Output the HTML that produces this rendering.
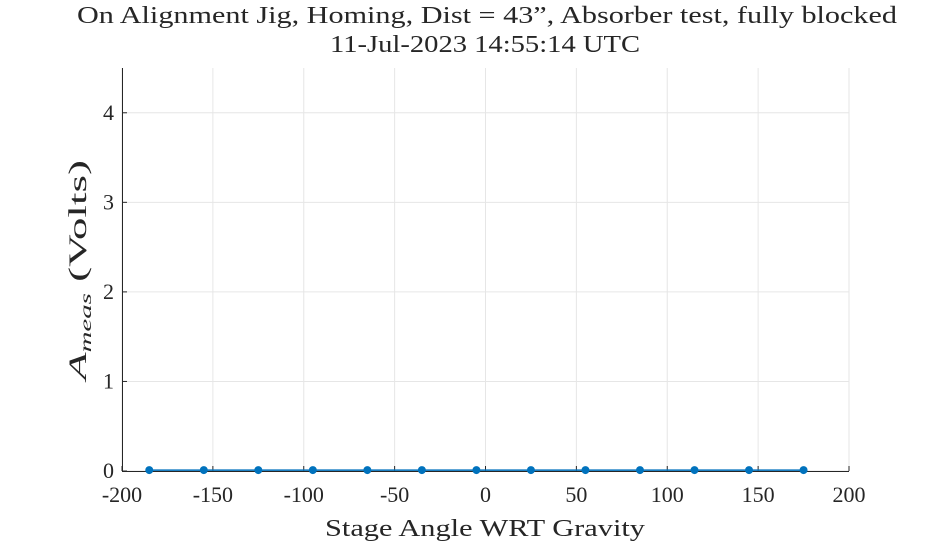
<!DOCTYPE html>
<html><head><meta charset="utf-8"><style>
body{margin:0;background:#fff;}
svg{display:block;font-family:"Liberation Serif",serif;}
</style></head><body>
<svg id="chart" width="938" height="547" viewBox="0 0 938 547">
<rect width="938" height="547" fill="#fff"/>
<text x="487" y="23" font-size="24" text-anchor="middle" fill="#262626" textLength="820" lengthAdjust="spacingAndGlyphs">On Alignment Jig, Homing, Dist = 43”, Absorber test, fully blocked</text>
<text x="485" y="52" font-size="24" text-anchor="middle" fill="#262626" textLength="310" lengthAdjust="spacingAndGlyphs">11-Jul-2023 14:55:14 UTC</text>
<g id="grid"></g>
<g id="axes"></g>
<g id="series"></g>
<text x="485" y="536" font-size="24" text-anchor="middle" fill="#262626" textLength="320" lengthAdjust="spacingAndGlyphs">Stage Angle WRT Gravity</text>
<text transform="translate(86,270) rotate(-90)" font-size="25" text-anchor="middle" fill="#262626" textLength="220" lengthAdjust="spacingAndGlyphs"><tspan font-style="italic">A</tspan><tspan font-style="italic" font-size="16" dy="5">meas</tspan><tspan dy="-5">  (Volts)</tspan></text>
</svg>
<script>
const angles=[-185,-155,-125,-95,-65,-35,-5,25,55,85,115,145,175];
const volts=[0.01,0.01,0.01,0.01,0.01,0.01,0.01,0.01,0.01,0.01,0.01,0.01,0.01];
const xTicks=[-200,-150,-100,-50,0,50,100,150,200];
const yTicks=[0,1,2,3,4];
const X0=122,X1=849,Y0=471,Y1=68,xmin=-200,xmax=200,ymin=0,ymax=4.5;
const sx=v=>X0+(v-xmin)/(xmax-xmin)*(X1-X0);
const sy=v=>Y0-(v-ymin)/(ymax-ymin)*(Y0-Y1);
const NS="http://www.w3.org/2000/svg";
function mk(p,t,a){const e=document.createElementNS(NS,t);for(const k in a)e.setAttribute(k,a[k]);p.appendChild(e);return e;}
const g=document.getElementById('grid'),ax=document.getElementById('axes'),s=document.getElementById('series');
xTicks.forEach(t=>{
 const l=mk(g,'line',{x1:sx(t),x2:sx(t),y1:Y1,y2:Y0,stroke:'#e6e6e6','stroke-width':1});
 
 
 mk(ax,'line',{x1:sx(t),x2:sx(t),y1:Y0,y2:Y0-5,stroke:'#262626','stroke-width':1});
 const tx=mk(ax,'text',{x:sx(t),y:Y0+31,'font-size':22,'text-anchor':'middle',fill:'#262626'});
 tx.textContent=t;
 
 
});
yTicks.forEach(t=>{
 const l=mk(g,'line',{x1:X0,x2:X1,y1:sy(t),y2:sy(t),stroke:'#e6e6e6','stroke-width':1});
 
 
 mk(ax,'line',{x1:X0,x2:X0+5,y1:sy(t),y2:sy(t),stroke:'#262626','stroke-width':1});
 const tx=mk(ax,'text',{x:X0-8,y:sy(t)+7,'font-size':22,'text-anchor':'end',fill:'#262626'});
 tx.textContent=t;
 
 
});
mk(ax,'line',{x1:X0,x2:X1,y1:Y0+0.5,y2:Y0+0.5,stroke:'#262626','stroke-width':1});
mk(ax,'line',{x1:X0+0.5,x2:X0+0.5,y1:Y1,y2:Y0,stroke:'#262626','stroke-width':1});
const pl=mk(s,'polyline',{points:angles.map((a,i)=>sx(a)+','+sy(volts[i])).join(' '),fill:'none',stroke:'#0072bd','stroke-width':1.5});


angles.forEach((a,i)=>{
 const c=mk(s,'circle',{cx:sx(a),cy:sy(volts[i]),r:4,fill:'#0072bd'});
 
 
});
</script>
</body></html>
